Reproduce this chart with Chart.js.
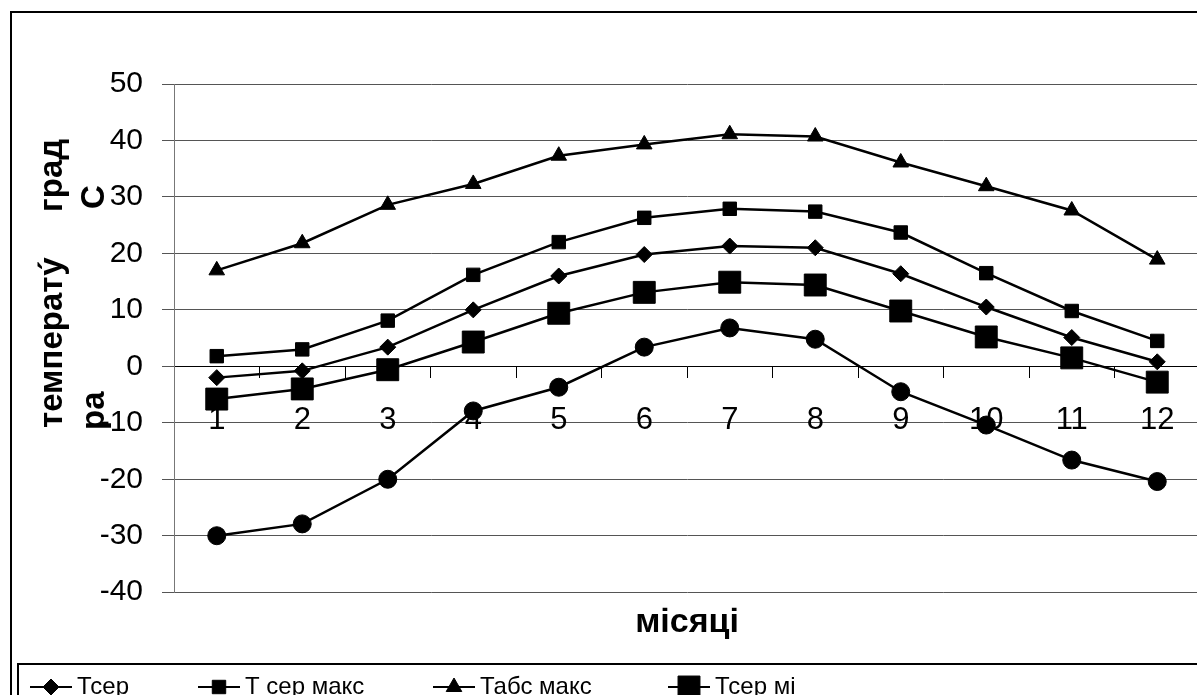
<!DOCTYPE html>
<html lang="uk">
<head>
<meta charset="utf-8">
<title>Температура по місяцях</title>
<script src="https://cdn.jsdelivr.net/npm/chart.js@4.4.1/dist/chart.umd.min.js"></script>
<style>
    html, body { margin: 0; padding: 0; background: #fff; overflow: hidden; }
    .temp-chart { position: absolute; left: 0; top: 0; width: 1230px; height: 730px; }
</style>
</head>
<body>
<div class="temp-chart"><canvas id="tempChart"></canvas></div>
<script>
// місяці
const months = ["1", "2", "3", "4", "5", "6", "7", "8", "9", "10", "11", "12"];

// значення температури, град С
const tSer = [-2.0, -0.8, 3.4, 10.0, 16.0, 19.8, 21.3, 21.0, 16.4, 10.5, 5.1, 0.8];
const tSerMax = [1.8, 3.0, 8.1, 16.2, 22.0, 26.3, 27.9, 27.4, 23.7, 16.5, 9.8, 4.5];
const tAbsMax = [17.0, 21.8, 28.6, 32.3, 37.3, 39.3, 41.1, 40.7, 36.1, 31.9, 27.6, 18.9];
const tSerMin = [-5.8, -4.0, -0.6, 4.3, 9.4, 13.1, 14.9, 14.4, 9.8, 5.2, 1.5, -2.8];
const tAbsMin = [-30.0, -27.9, -20.0, -7.9, -3.7, 3.4, 6.8, 4.8, -4.5, -10.4, -16.6, -20.4];

const seriesNames = ["Тсер", "Т сер макс", "Табс макс", "Тсер мі", "Табс мін"];

// шкала Y
const yMin = -40;
const yMax = 50;
const yStep = 10;

(function () {
    const FONT = "'Liberation Sans', Arial, sans-serif";

    function series(label, data, style, radius) {
        return {
            label: label,
            data: data,
            borderColor: "#000",
            backgroundColor: "#000",
            borderWidth: 2.5,
            tension: 0,
            pointStyle: style,
            pointRadius: radius,
            pointHoverRadius: radius,
            pointBorderWidth: 1,
            pointBackgroundColor: "#000",
            pointBorderColor: "#000",
        };
    }

    // рамка діаграми
    const frame = {
        id: "frame",
        beforeDraw(chart) {
            const ctx = chart.ctx;
            ctx.save();
            ctx.fillStyle = "#fff";
            ctx.fillRect(0, 0, chart.width, chart.height);
            ctx.strokeStyle = "#000";
            ctx.lineWidth = 2;
            ctx.strokeRect(11, 12, chart.width + 50, chart.height + 50);
            ctx.restore();
        },
    };

    // підпис осі Y, розбитий як в Excel
    const yTitle = {
        id: "yTitle",
        afterDraw(chart) {
            const ctx = chart.ctx;
            const parts = [
                { text: "температу\u0301", x: 53, y: 428 },
                { text: "град", x: 53, y: 212 },
                { text: "ра", x: 95, y: 430 },
                { text: "С", x: 95, y: 209 },
            ];
            ctx.save();
            ctx.fillStyle = "#000";
            ctx.font = "bold 33px " + FONT;
            ctx.textAlign = "left";
            ctx.textBaseline = "middle";
            parts.forEach((p) => {
                ctx.save();
                ctx.translate(p.x, p.y);
                ctx.rotate(-Math.PI / 2);
                ctx.fillText(p.text, 0, 0);
                ctx.restore();
            });
            ctx.restore();
        },
    };

    // легенда з лінією та маркером
    const legendX = [30, 198, 433, 668, 30];
    const legendY = [687, 687, 687, 687, 725];
    const excelLegend = {
        id: "excelLegend",
        afterDraw(chart) {
            const ctx = chart.ctx;
            ctx.save();
            ctx.strokeStyle = "#000";
            ctx.lineWidth = 2;
            ctx.strokeRect(18, 664, chart.width, 200);

            chart.data.datasets.forEach((ds, i) => {
                const x = legendX[i];
                const y = legendY[i];
                ctx.strokeStyle = ds.borderColor;
                ctx.fillStyle = ds.pointBackgroundColor;
                ctx.lineWidth = 2;
                ctx.beginPath();
                ctx.moveTo(x, y);
                ctx.lineTo(x + 42, y);
                ctx.stroke();
                ctx.lineWidth = ds.pointBorderWidth;
                Chart.helpers.drawPoint(ctx, {
                    pointStyle: ds.pointStyle,
                    radius: ds.pointRadius,
                    borderWidth: ds.pointBorderWidth,
                    rotation: 0,
                }, x + 21, y);
                ctx.fillStyle = "#000";
                ctx.font = "24px " + FONT;
                ctx.textAlign = "left";
                ctx.textBaseline = "middle";
                ctx.fillText(ds.label, x + 47, y);
            });
            ctx.restore();
        },
    };

    const tempCanvas = document.querySelector("#tempChart");

    new Chart(tempCanvas, {
        type: "line",
        data: {
            labels: months,
            datasets: [
                series(seriesNames[0], tSer, "rectRot", 8),
                series(seriesNames[1], tSerMax, "rect", 9.5),
                series(seriesNames[2], tAbsMax, "triangle", 9),
                series(seriesNames[3], tSerMin, "rect", 15.5),
                series(seriesNames[4], tAbsMin, "circle", 9),
            ],
        },
        options: {
            responsive: true,
            maintainAspectRatio: false,
            animation: false,
            layout: {
                padding: { left: 0, top: 84, right: 30, bottom: 87 },
            },
            plugins: {
                legend: { display: false },
                tooltip: { enabled: false },
            },
            scales: {
                x: {
                    type: "category",
                    position: "bottom",
                    offset: true,
                    grid: { display: false, drawTicks: false },
                    border: { display: false },
                    ticks: { display: false },
                    title: {
                        display: true,
                        text: "місяці",
                        color: "#000",
                        font: { family: FONT, size: 34, weight: "bold" },
                        padding: { top: 10, bottom: 0 },
                    },
                },
                xZero: {
                    type: "category",
                    axis: "x",
                    position: { y: 0 },
                    offset: true,
                    grid: {
                        offset: true,
                        drawOnChartArea: false,
                        drawTicks: true,
                        tickLength: 11,
                        color: "#000",
                    },
                    border: { display: true, color: "#000", width: 1 },
                    ticks: {
                        color: "#000",
                        padding: 25,
                        maxRotation: 0,
                        autoSkip: false,
                        font: { family: FONT, size: 31 },
                    },
                },
                y: {
                    min: yMin,
                    max: yMax,
                    afterFit(scale) {
                        scale.width = 174;
                    },
                    grid: {
                        color: "#555",
                        lineWidth: 1,
                        tickLength: 12,
                    },
                    border: { display: true, color: "#777", width: 1 },
                    ticks: {
                        stepSize: yStep,
                        color: "#000",
                        padding: 19,
                        font: { family: FONT, size: 30 },
                    },
                },
            },
        },
        plugins: [frame, yTitle, excelLegend],
    });
})();
</script>
</body>
</html>
